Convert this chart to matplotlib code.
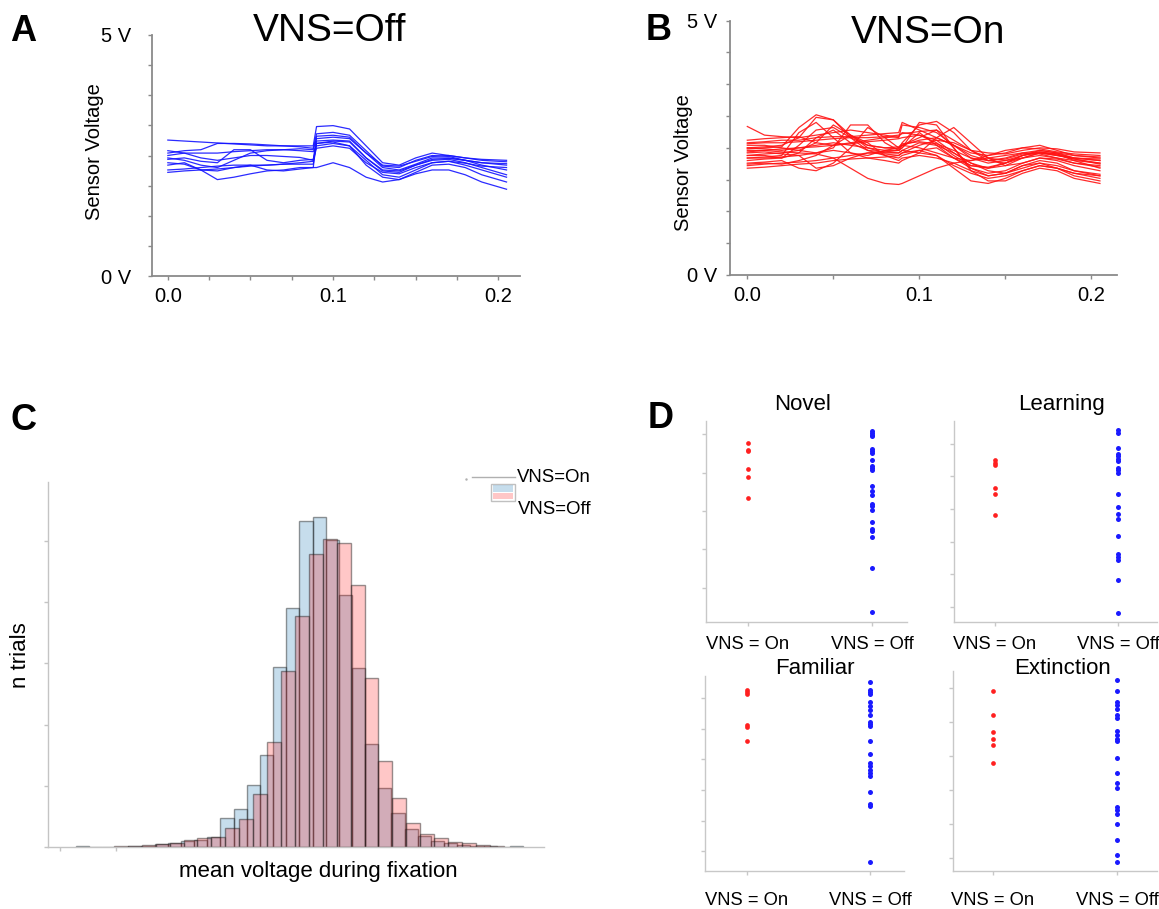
import numpy as np
import matplotlib.pyplot as plt
from matplotlib.lines import Line2D
from matplotlib.patches import Rectangle

plt.rcParams['font.family'] = ['Liberation Sans', 'DejaVu Sans']

# ---- panel A / B : sensor traces (volts) ----
t_s = [0.000, 0.010, 0.020, 0.030, 0.040, 0.050, 0.060, 0.070, 0.080, 0.088, 0.090,
       0.100, 0.110, 0.120, 0.130, 0.140, 0.150, 0.160, 0.170, 0.180, 0.190, 0.205]

off_traces = [
    [2.82, 2.80, 2.78, 2.76, 2.74, 2.72, 2.70, 2.70, 2.70, 2.70, 3.10, 3.12, 3.05, 2.70, 2.35, 2.30, 2.45, 2.55, 2.50, 2.45, 2.40, 2.37],
    [2.55, 2.60, 2.62, 2.75, 2.75, 2.74, 2.72, 2.70, 2.68, 2.65, 2.95, 2.98, 2.92, 2.60, 2.28, 2.25, 2.40, 2.50, 2.48, 2.40, 2.35, 2.30],
    [2.45, 2.40, 2.30, 2.25, 2.40, 2.55, 2.60, 2.62, 2.64, 2.62, 2.85, 2.88, 2.85, 2.55, 2.25, 2.20, 2.32, 2.45, 2.45, 2.40, 2.30, 2.20],
    [2.30, 2.35, 2.20, 2.00, 2.05, 2.12, 2.18, 2.20, 2.25, 2.25, 2.25, 2.35, 2.25, 2.05, 1.95, 2.00, 2.12, 2.20, 2.20, 2.10, 1.95, 1.80],
    [2.20, 2.22, 2.25, 2.28, 2.30, 2.30, 2.30, 2.32, 2.35, 2.38, 2.75, 2.80, 2.78, 2.45, 2.20, 2.18, 2.30, 2.40, 2.42, 2.35, 2.25, 2.10],
    [2.50, 2.55, 2.55, 2.55, 2.58, 2.60, 2.62, 2.62, 2.60, 2.58, 2.70, 2.75, 2.70, 2.40, 2.10, 2.05, 2.20, 2.35, 2.38, 2.30, 2.20, 2.05],
    [2.35, 2.32, 2.20, 2.18, 2.25, 2.30, 2.20, 2.18, 2.22, 2.25, 2.80, 2.82, 2.80, 2.45, 2.18, 2.15, 2.30, 2.42, 2.44, 2.40, 2.35, 2.33],
    [2.60, 2.55, 2.45, 2.40, 2.45, 2.50, 2.50, 2.48, 2.46, 2.40, 2.90, 2.92, 2.88, 2.55, 2.30, 2.28, 2.38, 2.48, 2.50, 2.45, 2.42, 2.40],
    [2.15, 2.18, 2.20, 2.22, 2.25, 2.28, 2.30, 2.32, 2.32, 2.32, 2.75, 2.78, 2.70, 2.30, 2.05, 2.00, 2.15, 2.30, 2.32, 2.25, 2.10, 1.95],
    [2.42, 2.45, 2.38, 2.35, 2.62, 2.62, 2.40, 2.35, 2.40, 2.42, 2.65, 2.70, 2.65, 2.35, 2.15, 2.12, 2.25, 2.35, 2.38, 2.34, 2.28, 2.25],
]

on_traces = [
    [2.92, 2.75, 2.72, 2.70, 2.75, 2.80, 2.85, 2.80, 2.75, 2.70, 2.95, 2.90, 2.80, 2.55, 2.30, 2.20, 2.25, 2.35, 2.40, 2.35, 2.30, 2.25],
    [2.50, 2.52, 2.55, 2.70, 3.10, 3.05, 2.70, 2.55, 2.50, 2.48, 2.60, 2.95, 3.02, 2.80, 2.45, 2.25, 2.20, 2.30, 2.35, 2.30, 2.20, 2.15],
    [2.35, 2.38, 2.40, 2.45, 2.60, 2.95, 2.75, 2.50, 2.40, 2.40, 2.45, 2.60, 2.55, 2.40, 2.20, 2.05, 2.00, 2.15, 2.25, 2.20, 2.05, 1.95],
    [2.20, 2.22, 2.25, 2.10, 2.05, 2.20, 2.50, 2.90, 2.70, 2.50, 2.55, 2.70, 2.85, 2.50, 2.10, 1.95, 2.00, 2.10, 2.20, 2.10, 1.95, 1.85],
    [2.45, 2.45, 2.42, 2.40, 2.38, 2.30, 2.10, 1.90, 1.80, 1.78, 1.80, 1.95, 2.10, 2.20, 2.25, 2.30, 2.35, 2.40, 2.38, 2.30, 2.25, 2.20],
    [2.60, 2.62, 2.65, 2.65, 2.70, 2.72, 2.72, 2.75, 2.78, 2.80, 3.00, 2.85, 2.70, 2.55, 2.40, 2.35, 2.40, 2.50, 2.55, 2.45, 2.35, 2.30],
    [2.30, 2.32, 2.35, 2.80, 3.00, 2.70, 2.40, 2.35, 2.45, 2.50, 2.55, 2.50, 2.40, 2.30, 2.10, 2.00, 2.05, 2.20, 2.30, 2.25, 2.15, 2.05],
    [2.15, 2.18, 2.20, 2.22, 2.25, 2.30, 2.35, 2.40, 2.42, 2.45, 2.50, 3.00, 2.95, 2.50, 2.05, 1.85, 1.85, 2.00, 2.10, 2.05, 1.90, 1.80],
    [2.55, 2.55, 2.50, 2.45, 2.40, 2.50, 2.95, 2.95, 2.60, 2.45, 2.50, 2.80, 2.55, 2.30, 2.25, 2.35, 2.45, 2.50, 2.48, 2.42, 2.38, 2.35],
    [2.40, 2.42, 2.38, 2.35, 2.10, 2.15, 2.30, 2.40, 2.38, 2.35, 2.40, 2.55, 2.65, 2.60, 2.45, 2.30, 2.25, 2.30, 2.40, 2.35, 2.28, 2.20],
    [2.25, 2.28, 2.30, 2.40, 2.70, 2.85, 2.60, 2.45, 2.42, 2.40, 2.45, 2.40, 2.35, 2.15, 2.00, 1.90, 1.95, 2.05, 2.15, 2.10, 2.00, 1.95],
    [2.65, 2.68, 2.70, 2.72, 2.60, 2.55, 2.60, 2.65, 2.70, 2.72, 2.80, 2.75, 2.65, 2.40, 2.20, 2.10, 2.15, 2.30, 2.40, 2.38, 2.30, 2.28],
    [2.10, 2.12, 2.15, 2.18, 2.20, 2.25, 2.28, 2.30, 2.32, 2.35, 2.40, 2.45, 2.35, 2.10, 1.85, 1.80, 1.90, 2.05, 2.15, 2.10, 2.00, 1.90],
    [2.50, 2.48, 2.45, 2.50, 2.55, 2.60, 2.55, 2.50, 2.45, 2.45, 2.55, 2.65, 2.70, 2.55, 2.35, 2.25, 2.30, 2.40, 2.45, 2.40, 2.35, 2.32],
    [2.35, 2.35, 2.30, 2.55, 2.85, 2.90, 2.70, 2.45, 2.35, 2.30, 2.35, 2.45, 2.50, 2.30, 2.15, 2.10, 2.20, 2.35, 2.42, 2.38, 2.25, 2.10],
    [2.58, 2.60, 2.60, 2.62, 2.65, 2.68, 2.70, 2.70, 2.72, 2.75, 2.78, 2.82, 2.85, 2.65, 2.45, 2.40, 2.38, 2.45, 2.50, 2.48, 2.42, 2.40],
    [2.18, 2.20, 2.18, 2.25, 2.35, 2.55, 2.75, 2.60, 2.35, 2.25, 2.30, 2.35, 2.30, 2.20, 2.05, 1.95, 2.00, 2.15, 2.20, 2.15, 2.05, 1.98],
    [2.42, 2.45, 2.48, 2.50, 2.52, 2.55, 2.58, 2.62, 2.65, 2.68, 2.70, 2.75, 2.60, 2.35, 2.15, 2.12, 2.20, 2.35, 2.45, 2.40, 2.30, 2.25],
    [2.30, 2.30, 2.32, 2.35, 2.40, 2.45, 2.40, 2.30, 2.25, 2.20, 2.25, 2.40, 2.70, 2.90, 2.60, 2.30, 2.15, 2.20, 2.30, 2.28, 2.20, 2.12],
    [2.48, 2.50, 2.52, 2.90, 3.15, 3.05, 2.75, 2.55, 2.50, 2.52, 2.58, 2.62, 2.58, 2.45, 2.30, 2.25, 2.28, 2.38, 2.42, 2.36, 2.28, 2.18],
]

# ---- panel C : histograms of mean voltage ----
on_bin_start, on_bin_width = 0.21, 0.1
on_counts = [1, 0, 0, 0, 1, 2, 5, 7, 10, 11, 16, 47, 62, 102, 151, 294, 390,
             533, 539, 501, 411, 292, 169, 96, 55, 30, 18, 10, 6, 3, 2, 1, 0, 1]
off_bin_start, off_bin_width = 0.501, 0.1058
off_counts = [1, 2, 3, 5, 7, 11, 14, 16, 31, 45, 87, 172, 287, 377, 478, 503,
              496, 427, 276, 140, 80, 40, 22, 14, 8, 6, 3, 1]

# ---- panel D : per-session values ----
categories = ['VNS = On', 'VNS = Off']
novel_on = [4.78, 4.58, 4.56, 4.09, 3.89, 3.35]
novel_off = [5.10, 5.04, 4.99, 4.95, 4.63, 4.57, 4.51, 4.32, 4.17, 4.12, 4.06, 3.65,
             3.52, 3.41, 3.19, 3.12, 3.02, 2.71, 2.54, 2.47, 2.32, 1.50, 0.35]
learning_on = [5.51, 5.42, 5.34, 4.64, 4.47, 3.81]
learning_off = [6.41, 6.31, 5.87, 5.69, 5.61, 5.54, 5.47, 5.26, 5.18, 5.11, 4.45,
                4.06, 3.84, 3.68, 3.17, 2.63, 2.53, 2.43, 1.82, 0.83]
familiar_on = [6.27, 6.20, 6.12, 5.11, 5.05, 4.60]
familiar_off = [6.52, 6.27, 6.20, 6.12, 5.87, 5.73, 5.60, 5.43, 5.22, 5.14, 5.08,
                4.60, 4.18, 3.88, 3.77, 3.64, 3.55, 3.45, 2.93, 2.55, 2.47, 0.65]
extinction_on = [5.90, 5.20, 4.71, 4.51, 4.32, 3.80]
extinction_off = [6.22, 5.91, 5.59, 5.49, 5.39, 5.20, 5.10, 4.73, 4.61, 4.51, 4.44,
                  3.93, 3.51, 3.21, 3.05, 2.51, 2.43, 2.31, 2.00, 1.53, 1.09, 0.90]

W, H = 1159, 909
fig = plt.figure(figsize=(W / 100, H / 100), dpi=100)


def px_axes(left, top, right, bottom):
    return fig.add_axes([left / W, 1 - bottom / H, (right - left) / W, (bottom - top) / H])


def px_text(x, y, s, **kw):
    fig.text(x / W, 1 - y / H, s, **kw)


def style_spines(ax, color, lw=1.0):
    for side in ['top', 'right']:
        ax.spines[side].set_visible(False)
    for side in ['left', 'bottom']:
        ax.spines[side].set_color(color)
        ax.spines[side].set_linewidth(lw)
    ax.tick_params(which='both', colors=color, direction='out', length=3, width=1,
                   labelcolor='black')


def trace_panel(box, traces, color, xlim, minor_step, ylab_pad):
    ax = px_axes(*box)
    for tr in traces:
        ax.plot(t_s, tr, color=color, lw=0.9, alpha=0.9)
    ax.set_xlim(*xlim)
    ax.set_ylim(0, 5)
    style_spines(ax, '#8a8a8a', 1.3)
    ax.set_xticks([0.0, 0.1, 0.2], ['0.0', '0.1', '0.2'], fontsize=14.5)
    ax.set_xticks(np.arange(0, 0.2001, minor_step), minor=True)
    ax.set_yticks(np.linspace(0, 5, 9), ['0 V'] + [''] * 7 + ['5 V'], fontsize=14.5)
    ax.tick_params(axis='x', which='both', pad=5)
    ax.tick_params(axis='y', pad=ylab_pad)
    return ax


trace_panel((151.8, 35, 519.6, 276), off_traces, '#1414ff', (-0.0097, 0.2129), 0.025, 12)
trace_panel((729.6, 20.7, 1117, 275), on_traces, '#ff1414', (-0.0103, 0.2149), 0.05, 6)

px_text(329.5, 31, 'VNS=Off', fontsize=28, ha='center', va='center')
px_text(928, 33, 'VNS=On', fontsize=28, ha='center', va='center')
px_text(94.6, 152, 'Sensor Voltage', fontsize=14.5, rotation=90, ha='center', va='center')
px_text(683.4, 163, 'Sensor Voltage', fontsize=14.5, rotation=90, ha='center', va='center')

# ---- C ----
axc = px_axes(48, 482, 544, 847)
on_edges = on_bin_start + on_bin_width * np.arange(len(on_counts) + 1)
off_edges = off_bin_start + off_bin_width * np.arange(len(off_counts) + 1)
axc.hist(on_edges[:-1], bins=on_edges, weights=on_counts,
         color=(0.12, 0.47, 0.71, 0.25), edgecolor=(0.1, 0.1, 0.1, 0.45), linewidth=1)
axc.hist(off_edges[:-1], bins=off_edges, weights=off_counts,
         color=(1.0, 0.0, 0.0, 0.22), edgecolor=(0.1, 0.1, 0.1, 0.45), linewidth=1)
axc.set_xlim(0, 3.769)
axc.set_ylim(0, 596)
style_spines(axc, '#c4c4c4', 1.0)
axc.set_yticks(np.arange(0, 501, 100), [])
axc.set_xticks([0.09, 0.52], [])
px_text(20, 655, 'n trials', fontsize=16, rotation=90, ha='center', va='center')
px_text(318, 872, 'mean voltage during fixation', fontsize=16, ha='center', va='center')

# legend of C
fig.add_artist(Line2D([471.7 / W, 515 / W], [1 - 477.3 / H, 1 - 477.3 / H],
                      color='#b0b0b0', lw=1))
fig.add_artist(Line2D([466.5 / W], [1 - 478.5 / H], marker='.', ms=1.5, color='#b0b0b0'))
fig.add_artist(Rectangle((491 / W, 1 - 501 / H), 24 / W, 17.5 / H,
                         facecolor='none', edgecolor='#c0c0c0', lw=1))
fig.add_artist(Rectangle((492.7 / W, 1 - 491.7 / H), 20.6 / W, 6.7 / H,
                         facecolor=(0.12, 0.47, 0.71, 0.25), edgecolor='none'))
fig.add_artist(Rectangle((492.7 / W, 1 - 499.3 / H), 20.6 / W, 6 / H,
                         facecolor=(1.0, 0.0, 0.0, 0.22), edgecolor='none'))
px_text(516.7, 478, 'VNS=On', fontsize=13.4, ha='left', va='center')
px_text(518, 509.3, 'VNS=Off', fontsize=13.4, ha='left', va='center')

# ---- D ----
d_panels = [
    ('Novel', novel_on, novel_off, (706, 421, 907, 622), (-0.339, 1.282), (0.10, 5.35), 7, (803, 405)),
    ('Learning', learning_on, learning_off, (954, 421, 1157, 622), (-0.333, 1.317), (0.54, 6.69), 7, (1062, 405)),
    ('Familiar', familiar_on, familiar_off, (705, 676, 904, 871), (-0.341, 1.276), (0.36, 6.71), 12, (815, 668)),
    ('Extinction', extinction_on, extinction_off, (953, 671, 1157, 871), (-0.323, 1.323), (0.63, 6.49), 12, (1062, 668)),
]
for name, on_vals, off_vals, box, xl, yl, lpad, tpos in d_panels:
    ax = px_axes(*box)
    ax.plot([0] * len(on_vals), on_vals, 'o', ms=3.4, color='#ff2020', mec='none')
    ax.plot([1] * len(off_vals), off_vals, 'o', ms=3.6, color='#1a1aff', mec='none')
    ax.set_xlim(*xl)
    ax.set_ylim(*yl)
    style_spines(ax, '#c8c8c8', 1.0)
    ax.set_xticks([0, 1], categories, fontsize=13.2)
    ax.tick_params(axis='x', pad=lpad)
    ax.set_yticks(np.arange(1, int(yl[1]) + 1), [])
    px_text(tpos[0], tpos[1], name, fontsize=16, ha='center', va='center')

# panel letters
for letter, (x, y) in zip('ABCD', [(23, 31.5), (658.5, 31), (24, 421), (660.5, 418.5)]):
    px_text(x, y, letter, fontsize=26, fontweight='bold', ha='center', va='center')

fig.savefig('out.png', dpi=100)
